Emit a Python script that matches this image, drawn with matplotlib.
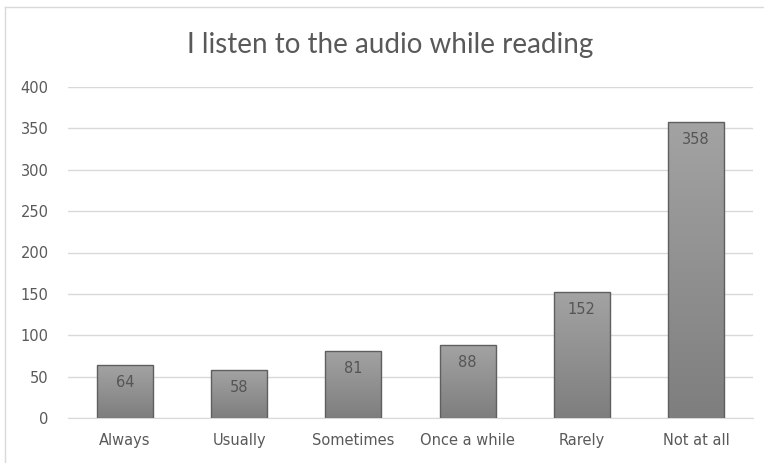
import numpy as np
import matplotlib.pyplot as plt
from matplotlib.lines import Line2D
from matplotlib.colors import LinearSegmentedColormap

categories = ['Always', 'Usually', 'Sometimes', 'Once a while', 'Rarely', 'Not at all']
counts = [64, 58, 81, 88, 152, 358]
yticks = [0, 50, 100, 150, 200, 250, 300, 350, 400]

fig = plt.figure(figsize=(7.64, 4.63), dpi=100)
ax = fig.add_axes([68 / 764, 1 - 418 / 463, (753 - 68) / 764, (418 - 87) / 463])

# chart frame (only left and top edges are visible)
fig.add_artist(Line2D([5 / 764, 5 / 764], [0, 1 - 7 / 463], transform=fig.transFigure,
                      color='#d9d9d9', lw=1))
fig.add_artist(Line2D([5 / 764, 1], [1 - 7 / 463, 1 - 7 / 463], transform=fig.transFigure,
                      color='#d9d9d9', lw=1))

x = np.arange(len(categories))
bars = ax.bar(x, counts, width=0.49, facecolor='none', edgecolor='#5f5f5f', lw=1, zorder=3)

# vertical grey gradient inside each bar, darker at the bottom
greys = LinearSegmentedColormap.from_list('greys', ['#7e7e7e', '#a3a3a3'])
grad = np.linspace(0, 1, 256).reshape(-1, 1)
for b in bars:
    x0, w, h = b.get_x(), b.get_width(), b.get_height()
    im = ax.imshow(grad, extent=[x0, x0 + w, 0, h], origin='lower', aspect='auto',
                   cmap=greys, zorder=2)
    im.set_clip_path(b)

for xi, v in zip(x, counts):
    ax.text(xi, v - 21, str(v), ha='center', va='center', fontsize=10.5,
            color='#555555', zorder=4)

ax.set_xlim(-0.5, len(categories) - 0.5)
ax.set_ylim(0, 400)
ax.set_yticks(yticks)
ax.set_xticks(x)
ax.set_xticklabels(categories)
ax.yaxis.grid(True, color='#d9d9d9', lw=1)
ax.set_axisbelow(True)
ax.tick_params(length=0, labelsize=10.5, colors='#595959')
ax.tick_params(axis='y', pad=14)
ax.tick_params(axis='x', pad=11)
for s in ['top', 'right', 'left']:
    ax.spines[s].set_visible(False)
ax.spines['bottom'].set_color('#d9d9d9')

fig.text(390 / 764, 1 - 45 / 463, 'I listen to the audio while reading', ha='center',
         va='center', fontsize=20, color='#595959', family='Lato')

fig.savefig('out.png', dpi=100)
